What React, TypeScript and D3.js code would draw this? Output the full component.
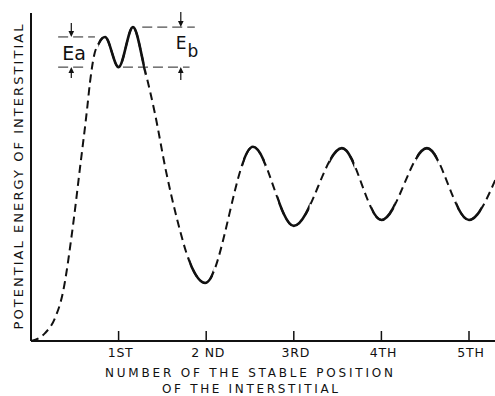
import * as d3 from 'd3';

// stable positions on the x axis and their labels
const tickPos = [1, 2, 3, 4, 5];
const tickLabels = ['1ST', '2 ND', '3RD', '4TH', '5TH'];

// potential energy curve (position units, energy in arbitrary units 0-100)
const curvePos = [
  0, 0.16, 0.274, 0.365, 0.468, 0.559, 0.639, 0.674, 0.719, 0.776, 0.845, 1.0, 1.164,
  1.301, 1.416, 1.541, 1.667, 1.815, 1.99, 2.534, 3.0, 3.55, 4.0, 4.52, 5.0, 5.3,
];
const curveEnergy = [
  0, 2.4, 7.0, 14.9, 32.9, 52.7, 70.4, 79.0, 86.9, 90.9, 92.7, 83.5, 95.7,
  82.6, 69.2, 51.8, 37.2, 23.8, 17.7, 59.2, 35.1, 58.8, 36.9, 58.8, 36.9, 49.1,
];

// stretches of the curve drawn solid (near the stable positions and saddles)
const solidRanges: [number, number][] = [
  [0.77, 1.3],
  [1.81, 2.08],
  [2.42, 2.67],
  [2.82, 3.18],
  [3.41, 3.69],
  [3.89, 4.15],
  [4.4, 4.64],
  [4.86, 5.14],
];

// activation energies marked on the first position
const wellEnergy = 83.5;
const barrierA = 92.7;
const barrierB = 95.7;

const W = 495;
const H = 396;
const FONT = '"DejaVu Sans", "Liberation Sans", sans-serif';

function Arrow({ cx, tip, tail }: { cx: number; tip: number; tail: number }) {
  const dir = tip > tail ? 1 : -1;
  const head = 6;
  return (
    <g>
      <line x1={cx} x2={cx} y1={tail} y2={tip - dir * head} stroke="#111" strokeWidth={1.2} />
      <path
        d={`M${cx},${tip} L${cx - 2.8},${tip - dir * head} L${cx + 2.8},${tip - dir * head} Z`}
        fill="#111"
      />
    </g>
  );
}

export default function App() {
  const x = d3.scaleLinear().domain([0, 5]).range([31, 469]);
  const y = d3.scaleLinear().domain([0, 100]).range([341, 13]);

  const line = d3
    .line<number>()
    .x((_, i) => x(curvePos[i]))
    .y((d) => y(d))
    .curve(d3.curveMonotoneX);
  const pathD = line(curveEnergy) || '';

  const eaX = x(0.46);
  const ebX = x(1.71);
  const refDash = '10 5';

  return (
    <svg
      width={W}
      height={H}
      style={{ position: 'absolute', left: 0, top: 0, background: '#fff' }}
      fontFamily={FONT}
    >
      <defs>
        <clipPath id="solid-parts">
          {solidRanges.map(([a, b], i) => (
            <rect key={i} x={x(a)} y={0} width={x(b) - x(a)} height={H} />
          ))}
        </clipPath>
        <clipPath id="plot">
          <rect x={x(0)} y={0} width={W - x(0)} height={y(0)} />
        </clipPath>
      </defs>

      {/* axes */}
      <line x1={x(0)} x2={W} y1={y(0)} y2={y(0)} stroke="#111" strokeWidth={2} />
      <line x1={x(0)} x2={x(0)} y1={y(0)} y2={y(100)} stroke="#111" strokeWidth={2} />
      {tickPos.map((p, i) => (
        <g key={p}>
          <line x1={x(p)} x2={x(p)} y1={y(0)} y2={y(0) - 10} stroke="#111" strokeWidth={1.5} />
          <text
            x={x(p) + 2}
            y={357}
            textAnchor="middle"
            fontSize={12.5}
            fill="#111"
            letterSpacing={0.8}
          >
            {tickLabels[i]}
          </text>
        </g>
      ))}

      {/* reference levels */}
      <g stroke="#222" strokeWidth={1} strokeDasharray={refDash}>
        <line x1={x(0.31)} x2={x(0.73)} y1={y(barrierA)} y2={y(barrierA)} />
        <line x1={x(0.31)} x2={x(0.65)} y1={y(wellEnergy)} y2={y(wellEnergy)} />
        <line x1={x(1.05)} x2={x(1.81)} y1={y(wellEnergy)} y2={y(wellEnergy)} />
        <line x1={x(1.27)} x2={x(1.87)} y1={y(barrierB)} y2={y(barrierB)} />
      </g>
      <Arrow cx={eaX} tail={y(barrierA) - 14} tip={y(barrierA)} />
      <Arrow cx={eaX} tail={y(wellEnergy) + 11} tip={y(wellEnergy)} />
      <Arrow cx={ebX} tail={y(barrierB) - 15} tip={y(barrierB)} />
      <Arrow cx={ebX} tail={y(wellEnergy) + 13} tip={y(wellEnergy)} />
      <text x={eaX - 9} y={60} fontSize={19} fill="#111">
        Ea
      </text>
      <text x={ebX - 5} y={49} fontSize={17} fill="#111">
        E
        <tspan dx={1} dy={8}>
          b
        </tspan>
      </text>

      {/* energy curve */}
      <g clipPath="url(#plot)">
        <path
          d={pathD}
          fill="none"
          stroke="#111"
          strokeWidth={2}
          strokeDasharray="8 5"
        />
        <path
          d={pathD}
          fill="none"
          stroke="#111"
          strokeWidth={2.6}
          clipPath="url(#solid-parts)"
        />
      </g>

      {/* axis titles */}
      <text
        x={249}
        y={377}
        textAnchor="middle"
        fontSize={12}
        fill="#111"
        textLength={288}
        lengthAdjust="spacing"
      >
        NUMBER OF THE STABLE POSITION
      </text>
      <text
        x={250}
        y={393}
        textAnchor="middle"
        fontSize={12}
        fill="#111"
        textLength={176}
        lengthAdjust="spacing"
      >
        OF THE INTERSTITIAL
      </text>
      <text
        transform="translate(23,177) rotate(-90)"
        textAnchor="middle"
        fontSize={13}
        fill="#111"
        textLength={305}
        lengthAdjust="spacing"
      >
        POTENTIAL ENERGY OF INTERSTITIAL
      </text>
    </svg>
  );
}
